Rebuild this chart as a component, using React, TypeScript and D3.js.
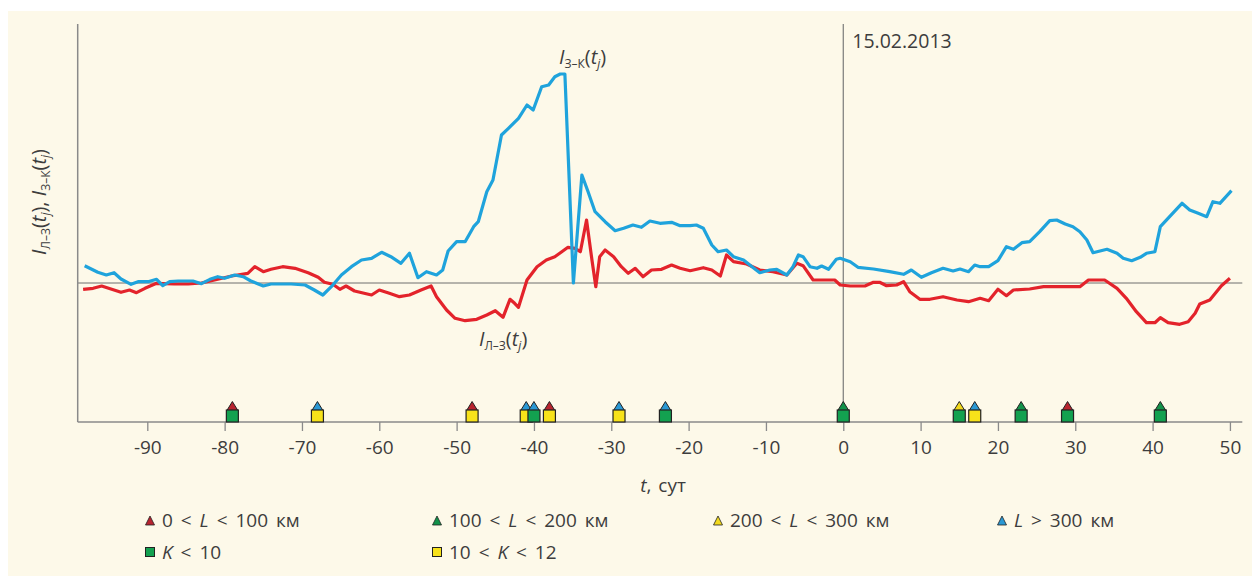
import * as d3 from "d3";

// I(З–К) curve, [t, value]
const zkPoints: [number, number][] = [
  [-98.1, 1.73], [-96.4, 1.07], [-95.3, 0.8], [-94.3, 1.03], [-93.4, 0.4], [-92.1, -0.13],
  [-91.2, 0.13], [-89.9, 0.13], [-88.8, 0.37], [-88, -0.27], [-87.1, 0.13], [-86, 0.2],
  [-84.1, 0.2], [-83, -0.07], [-81.9, 0.37], [-80.9, 0.63], [-80, 0.47], [-78.7, 0.8],
  [-77.6, 0.63], [-76.6, 0.2], [-75, -0.3], [-74, -0.1], [-71.4, -0.1], [-69.6, -0.2],
  [-68.4, -0.7], [-67.3, -1.2], [-66.2, -0.37], [-64.9, 0.8], [-63.6, 1.63], [-62.3, 2.3],
  [-61, 2.47], [-59.7, 3.07], [-58.5, 2.63], [-57.2, 1.97], [-56.1, 2.97], [-55, 0.53],
  [-53.9, 1.13], [-52.6, 0.8], [-51.8, 1.3], [-51.1, 3.2], [-50, 4.13], [-48.9, 4.13],
  [-47.8, 5.63], [-47.2, 6.13], [-46.1, 9.13], [-45.3, 10.3], [-44.2, 14.8], [-43.3, 15.47],
  [-42, 16.47], [-40.9, 17.8], [-40.1, 17.3], [-39, 19.63], [-38.1, 19.8], [-37.3, 20.63],
  [-36.6, 20.9], [-36, 20.9], [-34.9, 0], [-33.8, 10.8], [-33, 9.13], [-32.1, 7.13],
  [-30.8, 6.13], [-29.5, 5.23], [-28.4, 5.47], [-27.2, 5.8], [-26.1, 5.57], [-25, 6.2],
  [-23.7, 5.97], [-22.2, 6.07], [-21.1, 5.73], [-19.8, 5.73], [-19, 5.8], [-18.1, 5.47],
  [-17, 3.8], [-16.2, 3.13], [-15.1, 3.3], [-14.2, 2.63], [-12.9, 2.3], [-11.8, 1.63],
  [-10.8, 1.03], [-9.5, 1.3], [-8.6, 1.37], [-7.3, 0.8], [-6.5, 1.63], [-5.8, 2.8],
  [-5.2, 2.63], [-4.3, 1.63], [-3.4, 1.47], [-2.8, 1.7], [-1.9, 1.37], [-0.9, 2.37],
  [-0.4, 2.47], [0.9, 2.13], [1.9, 1.57], [3.9, 1.4], [6, 1.13], [7.8, 0.87], [8.8, 1.3],
  [10.1, 0.57], [11.4, 1.03], [12.9, 1.47], [14.2, 1.2], [15.1, 1.4], [16.2, 1.13], [17, 1.8],
  [17.7, 1.63], [18.8, 1.63], [20, 2.23], [21.1, 3.63], [22, 3.37], [23.1, 4.03], [24.1, 4.13],
  [25.4, 5.13], [26.7, 6.23], [27.6, 6.3], [28.7, 5.9], [29.7, 5.63], [30.6, 5.13], [31.5, 4.3],
  [32.3, 3.03], [34.1, 3.37], [35.4, 2.97], [36.2, 2.47], [37.3, 2.23], [38.4, 2.57],
  [39.2, 2.97], [40.3, 3.13], [41, 5.63], [42.2, 6.63], [43.8, 7.97], [44.8, 7.3], [45.9, 6.97],
  [47, 6.63], [47.8, 8.13], [48.7, 7.97], [50.2, 9.23],
];

// I(Л–З) curve, [t, value]
const lzPoints: [number, number][] = [
  [-98.3, -0.63], [-97, -0.53], [-95.9, -0.3], [-94.7, -0.6], [-93.4, -0.93], [-92.3, -0.7],
  [-91.4, -0.97], [-90.3, -0.53], [-88.8, -0.03], [-86.5, -0.1], [-84.7, -0.1], [-83, 0],
  [-81.3, 0.3], [-79.1, 0.7], [-77, 0.97], [-76.1, 1.63], [-75, 1.13], [-74, 1.37],
  [-72.5, 1.63], [-70.9, 1.47], [-69.2, 1.03], [-67.9, 0.57], [-67.1, 0.07], [-66, -0.13],
  [-65.1, -0.63], [-64.3, -0.3], [-63.2, -0.8], [-61, -1.2], [-60, -0.7], [-58.7, -1.03],
  [-57.4, -1.37], [-56.1, -1.2], [-54.6, -0.7], [-53.3, -0.3], [-52.6, -1.37], [-51.3, -2.7],
  [-50.2, -3.53], [-48.9, -3.77], [-47.4, -3.63], [-46.1, -3.2], [-45, -2.77], [-44, -3.43],
  [-43.1, -1.63], [-42.5, -2.03], [-42, -2.43], [-40.9, 0.3], [-39.6, 1.63], [-38.4, 2.3],
  [-37.3, 2.63], [-36.4, 3.13], [-35.6, 3.57], [-34.7, 3.47], [-34, 3.13], [-33.2, 6.3],
  [-32.5, 2.3], [-32, -0.37], [-31.5, 2.63], [-30.8, 3.3], [-29.7, 2.63], [-28.7, 1.63],
  [-27.8, 0.97], [-26.9, 1.47], [-25.9, 0.63], [-24.8, 1.3], [-23.5, 1.37], [-22.2, 1.8],
  [-21.1, 1.47], [-19.8, 1.23], [-18.1, 1.53], [-17, 1.3], [-15.9, 0.7], [-15.1, 2.8],
  [-14.2, 2.13], [-12.5, 1.9], [-10.8, 1.3], [-9.1, 1.13], [-7.3, 0.8], [-6, 1.97],
  [-5.2, 1.73], [-3.9, 0.3], [-2.6, 0.3], [-1.1, 0.3], [-0.4, -0.2], [0.9, -0.3], [2.8, -0.3],
  [3.9, 0.07], [4.7, 0.07], [5.6, -0.27], [6.9, -0.2], [7.8, 0.13], [8.6, -0.87], [9.9, -1.63],
  [11.2, -1.63], [12.9, -1.37], [14.7, -1.7], [16.2, -1.87], [17.7, -1.53], [18.8, -1.77],
  [20, -0.63], [21.1, -1.27], [22, -0.7], [24.1, -0.6], [25.9, -0.37], [30.6, -0.37],
  [31.7, 0.3], [33.8, 0.3], [35.4, -0.53], [36.6, -1.53], [37.9, -2.87], [39.2, -3.97],
  [40.3, -3.97], [41, -3.47], [42, -3.97], [43.5, -4.13], [44.6, -3.87], [45.5, -3.03],
  [46.1, -2.1], [47.4, -1.7], [48.9, -0.27], [50, 0.47],
];

// events: day, distance class (triangle), K class (square)
const eventT = [-79, -68, -48, -41, -40, -38, -29, -23, 0, 15, 17, 23, 29, 41];
const eventL = ["l1", "l4", "l1", "l4", "l4", "l1", "l4", "l4", "l2", "l3", "l4", "l2", "l1", "l2"];
const eventK = ["k1", "k2", "k2", "k2", "k1", "k2", "k2", "k1", "k1", "k1", "k2", "k1", "k1", "k1"];

const xTicks = [-90, -80, -70, -60, -50, -40, -30, -20, -10, 0, 10, 20, 30, 40, 50];

const lColors: Record<string, string> = { l1: "#b8242f", l2: "#12924a", l3: "#f2d91c", l4: "#2a98d4" };
const kColors: Record<string, string> = { k1: "#13a150", k2: "#f7e21a" };

/** svg dimensions */
const width = 1252;
const height = 579;
const font = "'Open Sans', sans-serif";
const textColor = "#3d3d3d";

const xScale = d3.scaleLinear().domain([-99, 51.6]).range([77.7, 1242.3]);
const yScale = d3.scaleLinear().domain([-13.9, 25.9]).range([422, 24]);
const xAxis = d3
  .axisBottom(xScale)
  .tickValues(xTicks)
  .tickSize(9)
  .tickPadding(10)
  .tickFormat((d) => String(d));

const line = d3
  .line<[number, number]>()
  .x((d) => xScale(d[0]))
  .y((d) => yScale(d[1]));

const tri = (cx: number, base: number, w: number, h: number) =>
  `M${cx - w / 2},${base} L${cx},${base - h} L${cx + w / 2},${base} Z`;

// I with subscript and (t_j)
const ILabel = ({ x, y, sub }: { x: number; y: number; sub: string }) => (
  <text x={x} y={y} fontFamily={font} fontSize={20} fill={textColor}>
    <tspan fontStyle="italic">I</tspan>
    <tspan fontSize={12} dy={4}>{sub}</tspan>
    <tspan dy={-4}>(</tspan>
    <tspan fontStyle="italic">t</tspan>
    <tspan fontStyle="italic" fontSize={12} dy={4}>j</tspan>
    <tspan dy={-4}>)</tspan>
  </text>
);

const legendL = [
  { key: "l1", x: 150, pre: "0 < ", post: " < 100 км" },
  { key: "l2", x: 437, pre: "100 < ", post: " < 200 км" },
  { key: "l3", x: 718, pre: "200 < ", post: " < 300 км" },
  { key: "l4", x: 1002, pre: "", post: " > 300 км" },
];
const legendK = [
  { key: "k1", x: 150, pre: "", post: " < 10" },
  { key: "k2", x: 437, pre: "10 < ", post: " < 12" },
];

const App = () => {
  return (
    <svg
      width={width}
      height={height}
      style={{ position: "absolute", left: 0, top: 0, display: "block" }}
    >
      <rect x={0} y={0} width={width} height={height} fill="#ffffff" />
      <rect x={8} y={11} width={width - 8} height={height - 14} fill="#fdf9e9" />

      {/* zero line */}
      <line x1={xScale(-99)} x2={xScale(51.6)} y1={yScale(0)} y2={yScale(0)} stroke="#6f6f6f" strokeWidth={1} />
      {/* vertical line at 15.02.2013 */}
      <line x1={xScale(0)} x2={xScale(0)} y1={24} y2={422} stroke="#7a7a7a" strokeWidth={1.2} />
      <text x={xScale(0) + 9} y={48} fontFamily={font} fontSize={19.5} fill={textColor}>
        15.02.2013
      </text>

      {/* y axis */}
      <line x1={xScale(-99)} x2={xScale(-99)} y1={24} y2={422} stroke="#8a8a8a" strokeWidth={1.5} />

      {/* x axis */}
      <g
        ref={(element) => {
          if (!element) return;
          const g = d3.select(element);
          g.selectAll("*").remove();
          xAxis(g);
          g.select(".domain").remove();
          g.selectAll(".tick line").attr("stroke", "#8a8a8a").attr("stroke-width", 1.3);
          g.selectAll(".tick text")
            .attr("font-family", font)
            .attr("font-size", 19)
            .attr("fill", textColor);
        }}
        transform="translate(0, 422)"
      />
      <line x1={xScale(-99)} x2={xScale(51.6)} y1={422} y2={422} stroke="#8a8a8a" strokeWidth={1.5} />

      {/* curves */}
      <path d={line(lzPoints) ?? ""} fill="none" stroke="#e3232b" strokeWidth={3.2} strokeLinejoin="round" />
      <path d={line(zkPoints) ?? ""} fill="none" stroke="#1fa3dc" strokeWidth={3.2} strokeLinejoin="round" />

      <ILabel x={559} y={64} sub="З–К" />
      <ILabel x={479} y={346} sub="Л–З" />

      {/* y label */}
      <text
        x={46}
        y={202}
        fontFamily={font}
        fontSize={20}
        fill={textColor}
        textAnchor="middle"
        transform="rotate(-90, 46, 202)"
      >
        <tspan fontStyle="italic">I</tspan>
        <tspan fontSize={12} dy={4}>Л–З</tspan>
        <tspan dy={-4}>(</tspan>
        <tspan fontStyle="italic">t</tspan>
        <tspan fontStyle="italic" fontSize={12} dy={4}>j</tspan>
        <tspan dy={-4}>), </tspan>
        <tspan fontStyle="italic">I</tspan>
        <tspan fontSize={12} dy={4}>З–К</tspan>
        <tspan dy={-4}>(</tspan>
        <tspan fontStyle="italic">t</tspan>
        <tspan fontStyle="italic" fontSize={12} dy={4}>j</tspan>
        <tspan dy={-4}>)</tspan>
      </text>

      {/* event markers */}
      {eventT.map((t, i) => {
        const cx = xScale(t);
        return (
          <g key={i}>
            <path d={tri(cx, 410.5, 11, 9)} fill={lColors[eventL[i]]} stroke="#222" strokeWidth={1} />
            <rect x={cx - 6} y={410} width={12} height={12} fill={kColors[eventK[i]]} stroke="#222" strokeWidth={1.2} />
          </g>
        );
      })}

      {/* x title */}
      <text x={663} y={492} fontFamily={font} fontSize={19} fill={textColor} textAnchor="middle" wordSpacing={2}>
        <tspan fontStyle="italic">t</tspan>, сут
      </text>

      {/* legend */}
      {legendL.map((d) => (
        <g key={d.key}>
          <path d={tri(d.x, 525, 9, 9)} fill={lColors[d.key]} stroke="#222" strokeWidth={0.8} />
          <text x={d.x + 12} y={527} fontFamily={font} fontSize={19} fill={textColor} wordSpacing={3}>
            {d.pre}
            <tspan fontStyle="italic">L</tspan>
            {d.post}
          </text>
        </g>
      ))}
      {legendK.map((d) => (
        <g key={d.key}>
          <rect x={d.x - 4.5} y={547.5} width={9} height={9} fill={kColors[d.key]} stroke="#222" strokeWidth={1} />
          <text x={d.x + 12} y={559} fontFamily={font} fontSize={19} fill={textColor} wordSpacing={3}>
            {d.pre}
            <tspan fontStyle="italic">K</tspan>
            {d.post}
          </text>
        </g>
      ))}
    </svg>
  );
};

export default App;
